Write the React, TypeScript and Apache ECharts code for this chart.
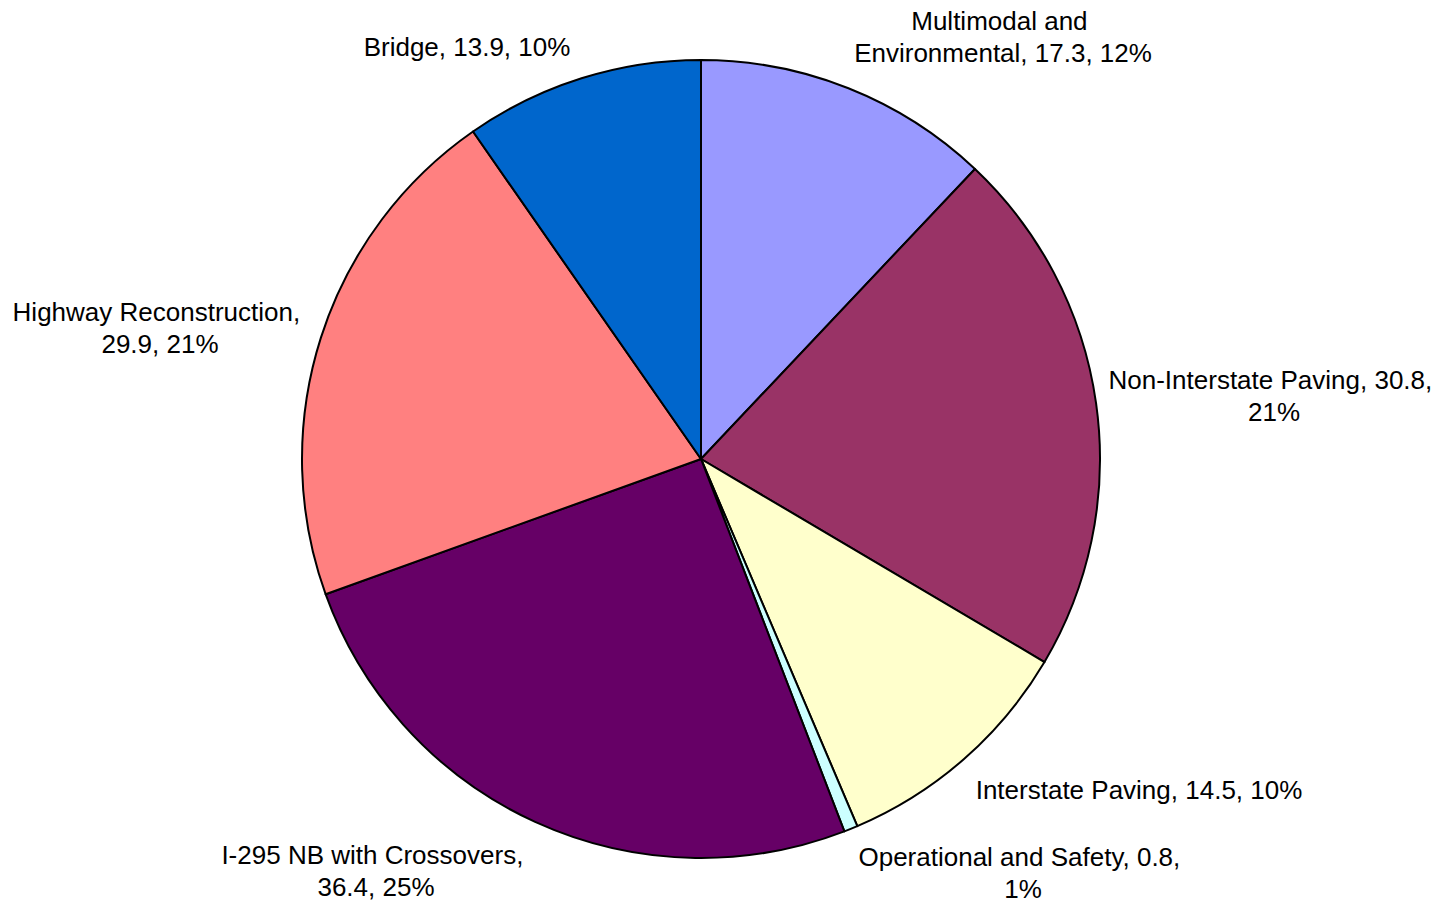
import React, { useEffect, useRef } from "react";
import * as echarts from "echarts";

const categories = [
  "Multimodal and Environmental",
  "Non-Interstate Paving",
  "Interstate Paving",
  "Operational and Safety",
  "I-295 NB with Crossovers",
  "Highway Reconstruction",
  "Bridge",
];
const values = [17.3, 30.8, 14.5, 0.8, 36.4, 29.9, 13.9];
const colors = ["#9999FF", "#993366", "#FFFFCC", "#CCFFFF", "#660066", "#FF8080", "#0066CC"];

// label layout (centre of each label block) and wrap widths
const labelPos: [number, number][] = [
  [1003, 37],
  [1274, 396],
  [1139, 790],
  [1023, 873],
  [376, 871],
  [160, 328],
  [467, 47],
];
const labelWidths = [335, 350, 420, 350, 325, 315, 320];

export default function App() {
  const ref = useRef<HTMLDivElement>(null);
  useEffect(() => {
    document.body.style.margin = "0";
    if (!ref.current) return;
    const chart = echarts.init(ref.current, null, { renderer: "svg" });
    chart.setOption({
      animation: false,
      backgroundColor: "#ffffff",
      series: [
        {
          type: "pie",
          center: [701, 459],
          radius: 399,
          startAngle: 90,
          clockwise: true,
          percentPrecision: 0,
          avoidLabelOverlap: false,
          itemStyle: { borderColor: "#000000", borderWidth: 2 },
          label: {
            show: true,
            position: "outside",
            formatter: "{b}, {c}, {d}%",
            fontFamily: "Liberation Sans, Arial, sans-serif",
            fontSize: 26,
            lineHeight: 32,
            color: "#000000",
            overflow: "break",
            align: "center",
          },
          labelLine: { show: false },
          labelLayout: (p: any) => {
            const pos = labelPos[p.dataIndex];
            return { x: pos[0], y: pos[1], align: "center", verticalAlign: "middle" };
          },
          emphasis: { disabled: true },
          data: categories.map((name, i) => ({
            name,
            value: values[i],
            itemStyle: { color: colors[i] },
            label: { width: labelWidths[i] },
          })),
        },
      ],
    });
    return () => chart.dispose();
  }, []);
  return <div ref={ref} style={{ width: 1444, height: 905 }} />;
}
